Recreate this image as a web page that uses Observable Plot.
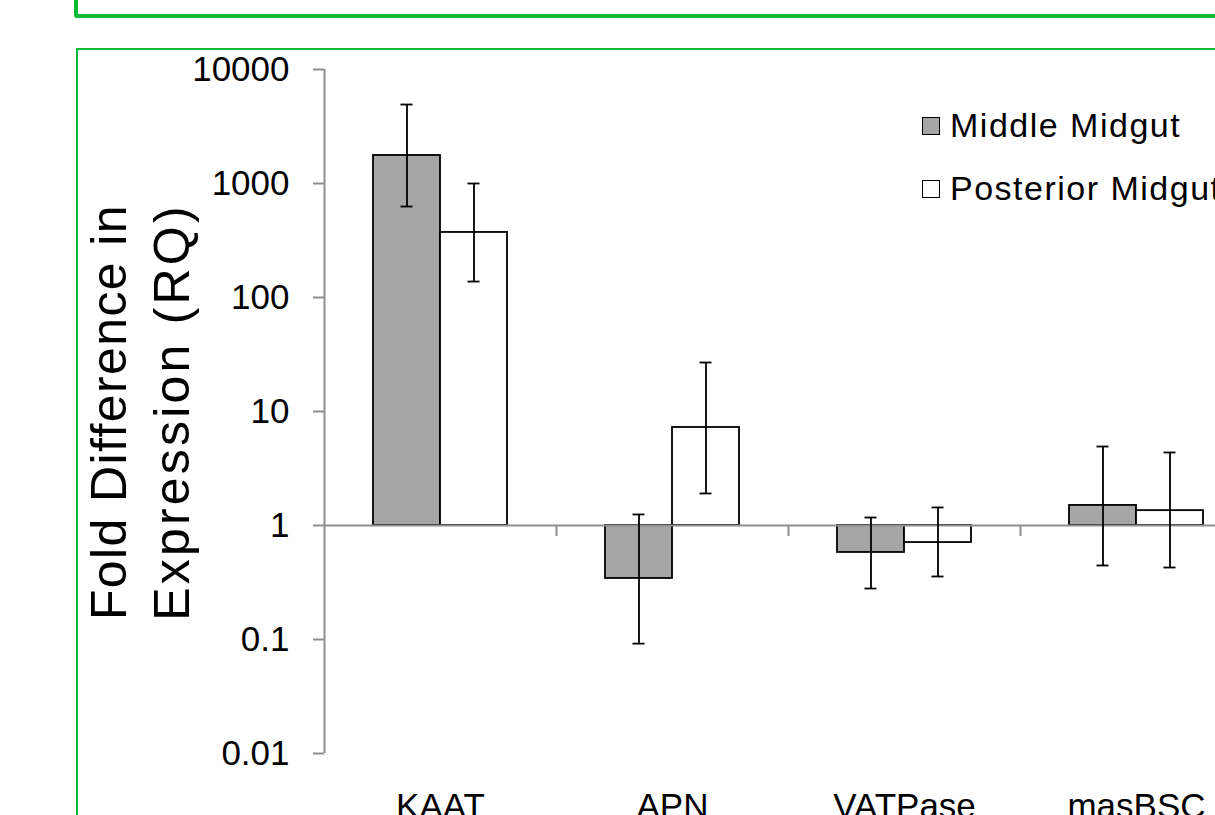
<!DOCTYPE html>
<html>
<head>
<meta charset="utf-8">
<script src="https://cdn.jsdelivr.net/npm/d3@7"></script>
<script src="https://cdn.jsdelivr.net/npm/@observablehq/plot@0.6"></script>
<style>
  html, body { margin: 0; padding: 0; background: #fff; overflow: hidden; width: 1215px; height: 815px; }
  #wrap { position: relative; width: 1215px; height: 815px; overflow: hidden; font-family: "Liberation Sans", Arial, sans-serif; color: #000; }
  #chart { position: absolute; left: 0; top: 0; }
  .frame1 { position: absolute; left: 74px; top: -40px; width: 1400px; height: 57.5px; border: 4px solid #0cbb34; border-radius: 3px; box-sizing: border-box; }
  .frame2 { position: absolute; left: 76px; top: 48px; width: 1400px; height: 900px; border: 2px solid #0cbb34; box-sizing: border-box; }
  .ytitle { position: absolute; left: -159px; top: 349px; width: 600px; height: 126px; transform: rotate(-90deg); transform-origin: 50% 50%; font-size: 50px; line-height: 63px; text-align: center; white-space: nowrap; }
  .ytitle .l1 { letter-spacing: 1.4px; }
  .ytitle .l2 { letter-spacing: 3.2px; }
  .swatch { position: absolute; width: 18px; height: 18px; border: 1.5px solid #000; box-sizing: border-box; }
  .ltext { position: absolute; font-size: 34px; line-height: 34px; letter-spacing: 1.5px; white-space: nowrap; }
</style>
</head>
<body>
<div id="wrap">
  <div id="chart"></div>
  <div class="ytitle"><span class="l1">Fold Difference in</span><br><span class="l2">Expression (RQ)</span></div>
  <div id="legend"></div>
  <div class="frame1"></div>
  <div class="frame2"></div>
</div>
<script>
// ---- data ----
const categories = ["KAAT", "APN", "VATPase", "masBSC"];
const seriesNames = ["Middle Midgut", "Posterior Midgut"];
const seriesFills = ["#a6a6a6", "#ffffff"];
const middleRQ   = [1761, 0.343, 0.580, 1.50];
const middleHigh = [4930, 1.25, 1.175, 4.93];
const middleLow  = [628, 0.092, 0.280, 0.446];
const posteriorRQ   = [372, 7.24, 0.709, 1.35];
const posteriorHigh = [1000, 26.9, 1.44, 4.37];
const posteriorLow  = [138, 1.91, 0.357, 0.428];
const yTicks = [0.01, 0.1, 1, 10, 100, 1000, 10000];

const mid = categories.map((c, i) => ({category: c, rq: middleRQ[i], lo: middleLow[i], hi: middleHigh[i]}));
const post = categories.map((c, i) => ({category: c, rq: posteriorRQ[i], lo: posteriorLow[i], hi: posteriorHigh[i]}));

const axisGray = "#8f8f8f";
const ink = "#000";
const sw = 1.8;

const chart = Plot.plot({
  width: 1252,
  height: 860,
  marginLeft: 324,
  marginRight: 0,
  marginTop: 69,
  marginBottom: 107,
  style: {background: "transparent", maxWidth: "none", fontFamily: "'Liberation Sans', Arial, sans-serif", overflow: "visible"},
  x: {domain: categories, padding: 0, axis: null},
  y: {type: "log", domain: [0.01, 10000], axis: null},
  marks: [
    Plot.barY(mid, {x: "category", y1: () => 1, y2: "rq", fill: seriesFills[0], stroke: ink, strokeWidth: sw, insetLeft: 49, insetRight: 116}),
    Plot.barY(post, {x: "category", y1: () => 1, y2: "rq", fill: seriesFills[1], stroke: ink, strokeWidth: sw, insetLeft: 116, insetRight: 49}),
    Plot.ruleY([1], {stroke: axisGray, strokeWidth: 2}),
    Plot.ruleX(categories.slice(1), {x: d => d, y1: () => 1, y2: () => 1, dx: -116, insetBottom: -11, stroke: axisGray, strokeWidth: 2}),
    Plot.ruleX(categories.slice(0, 1), {x: d => d, dx: -116, stroke: axisGray, strokeWidth: 2}),
    Plot.ruleX(mid, {x: "category", y1: "lo", y2: "hi", dx: -33.5, stroke: ink, strokeWidth: sw}),
    Plot.tickY(mid, {x: "category", y: "hi", insetLeft: 76.5, insetRight: 143.5, stroke: ink, strokeWidth: sw}),
    Plot.tickY(mid, {x: "category", y: "lo", insetLeft: 76.5, insetRight: 143.5, stroke: ink, strokeWidth: sw}),
    Plot.ruleX(post, {x: "category", y1: "lo", y2: "hi", dx: 33.5, stroke: ink, strokeWidth: sw}),
    Plot.tickY(post, {x: "category", y: "hi", insetLeft: 143.5, insetRight: 76.5, stroke: ink, strokeWidth: sw}),
    Plot.tickY(post, {x: "category", y: "lo", insetLeft: 143.5, insetRight: 76.5, stroke: ink, strokeWidth: sw}),
    Plot.axisY({ticks: yTicks, tickFormat: d => String(d), tickSize: 11, tickPadding: 24, fontSize: 35, stroke: axisGray, strokeWidth: 2, fill: ink}),
    Plot.axisX({tickSize: 0, tickPadding: 40, fontSize: 35, fill: ink})
  ]
});
document.getElementById("chart").appendChild(chart);

// ---- legend (HTML) ----
const legend = document.getElementById("legend");
const rowTops = [108, 171];
seriesNames.forEach((name, i) => {
  const s = document.createElement("div");
  s.className = "swatch";
  s.style.left = "922px";
  s.style.top = (rowTops[i] + 9) + "px";
  s.style.background = seriesFills[i];
  legend.appendChild(s);
  const t = document.createElement("div");
  t.className = "ltext";
  t.style.left = "950px";
  t.style.top = rowTops[i] + "px";
  t.textContent = name;
  legend.appendChild(t);
});
</script>
</body>
</html>
